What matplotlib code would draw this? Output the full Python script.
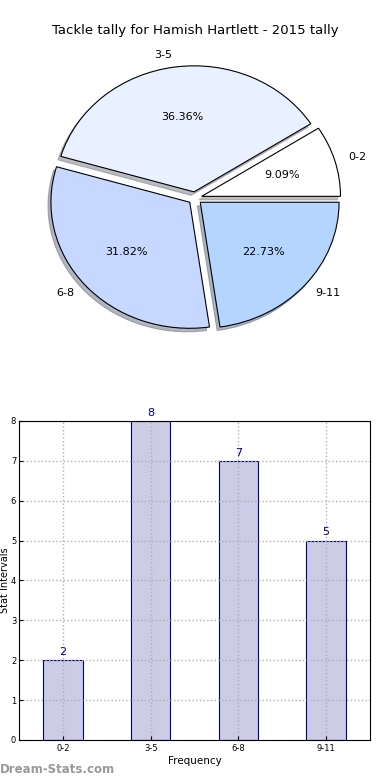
import matplotlib
matplotlib.use('Agg')
import matplotlib.pyplot as plt

# tally data
categories = ['0-2', '3-5', '6-8', '9-11']
counts = [2, 8, 7, 5]
pie_colors = ['#ffffff', '#e9f0ff', '#c6d8ff', '#b3d5ff']
explode = [0.05, 0.05, 0.05, 0.05]

fig = plt.figure(figsize=(3.9, 7.8), dpi=100)

# Pie chart (top)
ax1 = fig.add_axes([0.055, 0.544, 0.89, 0.404])
ax1.pie(counts, labels=categories, colors=pie_colors, explode=explode,
        autopct='%1.2f%%', shadow={'ox': -0.015, 'oy': -0.02, 'shade': 0.5},
        startangle=0,
        wedgeprops={'edgecolor': 'black', 'linewidth': 0.8},
        textprops={'fontsize': 8})
ax1.set_aspect('auto')
ax1.set_xlim(-1.25, 1.25)
ax1.set_ylim(-1.25, 1.25)
fig.text(0.5, 0.961, 'Tackle tally for Hamish Hartlett - 2015 tally',
         ha='center', va='center', fontsize=9.5)

# Bar chart (bottom)
ax2 = fig.add_axes([0.0487, 0.0513, 0.9, 0.409])
x = range(len(categories))
ax2.bar(x, counts, width=0.45, color='#ccccE6', edgecolor='#000080', linewidth=0.8)
for i, v in enumerate(counts):
    ax2.text(i, v + 0.08, str(v), ha='center', va='bottom', color='#000080', fontsize=8)
ax2.set_xlim(-0.5, 3.5)
ax2.set_ylim(0, 8)
ax2.set_xticks(list(x))
ax2.set_xticklabels(categories)
ax2.tick_params(labelsize=6, length=3, direction='in', pad=3)
ax2.tick_params(axis='y', pad=2)
ax2.grid(True, linestyle=':', color='#b0b0b0', linewidth=1)
ax2.set_axisbelow(False)
for sp in ax2.spines.values():
    sp.set_zorder(5)
ax2.set_xlabel('Frequency', fontsize=7.5, labelpad=2)
ax2.set_ylabel('Stat Intervals', fontsize=7)
ax2.yaxis.set_label_coords(-0.027, 0.5)

fig.text(0.0, 0.013, 'Dream-Stats.com', fontsize=8.5, fontweight='bold',
         color='#999999', ha='left', va='center')

fig.savefig('out.png', dpi=100)
